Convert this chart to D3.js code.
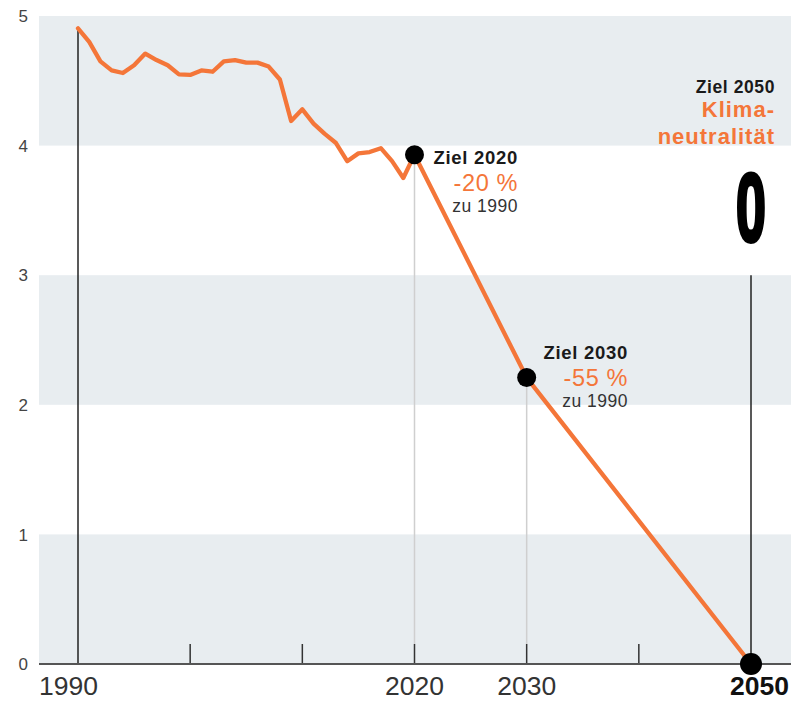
<!DOCTYPE html>
<html><head><meta charset="utf-8">
<script src="https://cdn.jsdelivr.net/npm/d3@7"></script>
<style>
body{margin:0;background:#fff;}
svg{display:block;font-family:"Liberation Sans",Arial,sans-serif;}
</style></head>
<body><svg id="c" width="791" height="702"></svg>
<script>
const years = [1990,1991,1992,1993,1994,1995,1996,1997,1998,1999,2000,2001,2002,2003,2004,2005,2006,2007,2008,2009,2010,2011,2012,2013,2014,2015,2016,2017,2018,2019];
const values = [4.905,4.80,4.65,4.58,4.56,4.62,4.71,4.66,4.62,4.55,4.545,4.58,4.57,4.65,4.66,4.64,4.64,4.61,4.51,4.19,4.28,4.17,4.09,4.02,3.88,3.94,3.95,3.98,3.88,3.75];
const targetYears = [2020,2030,2050];
const targetValues = [3.93,2.21,0];
const targetTitles = ["Ziel 2020","Ziel 2030","Ziel 2050"];
const targetPercents = ["-20 %","-55 %","Klima-|neutralität"];
const targetNotes = ["zu 1990","zu 1990","0"];
const yTicks = [0,1,2,3,4,5];
const xTicks = [1990,2000,2010,2020,2030,2040,2050];
const xLabels = [1990,2020,2030,2050];

const svg = d3.select("#c");
const x = d3.scaleLinear().domain([1990,2050]).range([78,751]);
const y = d3.scaleLinear().domain([0,5]).range([664,16]);
const orange = "#f47639";
const left = 39, right = 791;

// bands
svg.append("g").selectAll("rect").data([0,2,4]).join("rect")
  .attr("x",left).attr("width",right-left)
  .attr("y",d=>y(d+1)).attr("height",d=>y(d)-y(d+1))
  .attr("fill","#e8edf0");

// y labels
svg.append("g").selectAll("text").data(yTicks).join("text")
  .attr("x",28).attr("y",d=>y(d)).attr("dy","0.36em")
  .attr("text-anchor","end").attr("font-size",17).attr("fill","#444")
  .text(d=>d);

// guide lines
svg.append("line").attr("x1",x(1990)).attr("x2",x(1990))
  .attr("y1",y(values[0])).attr("y2",y(0)).attr("stroke","#222").attr("stroke-width",1.5);
svg.append("g").selectAll("line").data(targetYears.slice(0,2)).join("line")
  .attr("x1",d=>x(d)).attr("x2",d=>x(d))
  .attr("y1",(d,i)=>y(targetValues[i])).attr("y2",y(0)-20)
  .attr("stroke","#cfcfcf").attr("stroke-width",1.5);
svg.append("line").attr("x1",x(2050)).attr("x2",x(2050))
  .attr("y1",y(3)).attr("y2",y(0)).attr("stroke","#222").attr("stroke-width",1.5);

// ticks
svg.append("g").selectAll("line").data(xTicks.slice(1,6)).join("line")
  .attr("x1",d=>x(d)).attr("x2",d=>x(d))
  .attr("y1",y(0)-20).attr("y2",y(0))
  .attr("stroke","#333").attr("stroke-width",1.5);

// baseline
svg.append("line").attr("x1",left).attr("x2",right).attr("y1",y(0)).attr("y2",y(0))
  .attr("stroke","#555").attr("stroke-width",2);

// x labels
svg.append("g").selectAll("text").data(xLabels).join("text")
  .attr("x",d=> d===1990 ? left : d===2050 ? right-2 : x(d))
  .attr("y",695)
  .attr("text-anchor",d=> d===1990 ? "start" : d===2050 ? "end" : "middle")
  .attr("font-size",26.5).attr("font-weight",d=>d===2050?"bold":"normal")
  .attr("fill",d=>d===2050?"#111":"#333")
  .text(d=>d);

// line
const pts = years.map((yr,i)=>[yr,values[i]]).concat(targetYears.map((yr,i)=>[yr,targetValues[i]]));
svg.append("path").datum(pts)
  .attr("d",d3.line().x(d=>x(d[0])).y(d=>y(d[1])))
  .attr("fill","none").attr("stroke",orange).attr("stroke-width",4.3)
  .attr("stroke-linejoin","round").attr("stroke-linecap","round");

// dots
svg.append("g").selectAll("circle").data(targetYears).join("circle")
  .attr("cx",d=>x(d)).attr("cy",(d,i)=>y(targetValues[i]))
  .attr("r",(d,i)=>i===2?11:9.5).attr("fill","#000");

// annotations 2020 / 2030
[0,1].forEach(i=>{
  const rx = i===0 ? 518 : 628;
  const by = i===0 ? 164 : 359;
  const g = svg.append("g");
  g.append("text").attr("x",rx).attr("y",by).attr("text-anchor","end")
    .attr("font-size",18.5).attr("font-weight","bold").attr("fill","#1a1a1a")
    .attr("letter-spacing",0.7).text(targetTitles[i]);
  g.append("text").attr("x",rx).attr("y",by+27).attr("text-anchor","end")
    .attr("font-size",23.5).attr("fill",orange).attr("font-weight",500)
    .attr("letter-spacing",0.6).text(targetPercents[i]);
  g.append("text").attr("x",rx).attr("y",by+48).attr("text-anchor","end")
    .attr("font-size",17.5).attr("fill","#333").attr("letter-spacing",0.5).text(targetNotes[i]);
});

// annotation 2050
const g5 = svg.append("g");
g5.append("text").attr("x",775).attr("y",93).attr("text-anchor","end")
  .attr("font-size",17.5).attr("font-weight","bold").attr("fill","#1a1a1a")
  .attr("letter-spacing",0.6).text(targetTitles[2]);
targetPercents[2].split("|").forEach((t,k)=>{
  g5.append("text").attr("x",775).attr("y",117+k*27).attr("text-anchor","end")
    .attr("font-size",22).attr("font-weight","bold").attr("fill",orange)
    .attr("letter-spacing",1).text(t);
});
g5.append("text").attr("transform",`translate(${x(2050)},241) scale(0.56,1)`)
  .attr("text-anchor","middle").attr("font-size",96).attr("font-weight","bold")
  .attr("fill","#000").attr("stroke","#000").attr("stroke-width",4)
  .attr("stroke-linejoin","round").text(targetNotes[2]);
</script></body></html>
